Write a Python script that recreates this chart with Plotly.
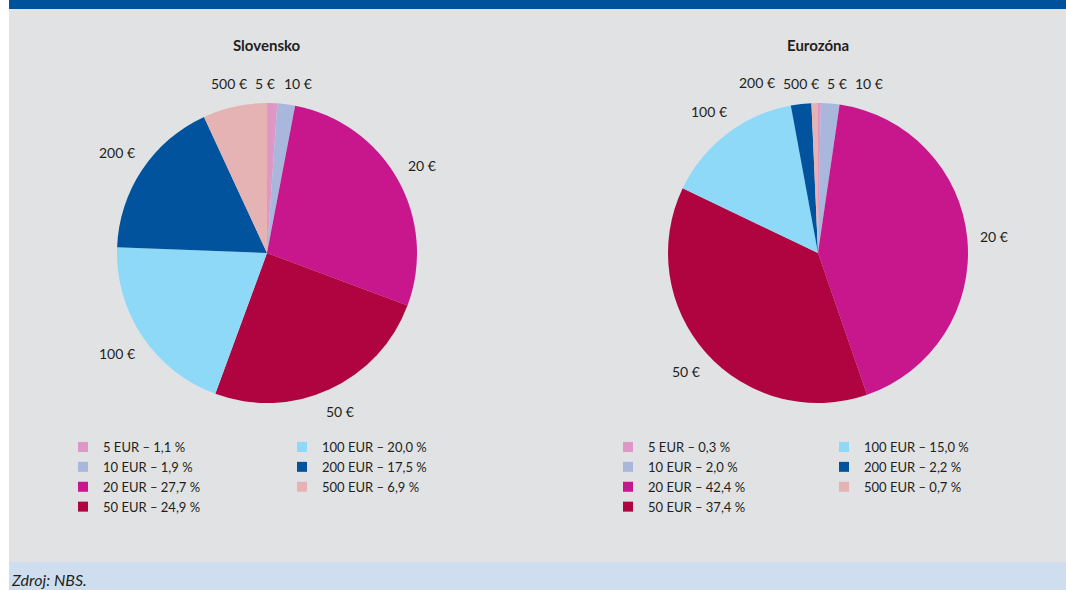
import math
import plotly.graph_objects as go

# ---------------- data ----------------
denominations = ["5", "10", "20", "50", "100", "200", "500"]
slice_labels = ["5 €", "10 €", "20 €", "50 €", "100 €", "200 €", "500 €"]
sk_values = [1.1, 1.9, 27.7, 24.9, 20.0, 17.5, 6.9]
ez_values = [0.3, 2.0, 42.4, 37.4, 15.0, 2.2, 0.7]
chart_titles = ["Slovensko", "Eurozóna"]
source_text = "Zdroj: NBS."

colors = ["#df97c5", "#a9b7dc", "#c8168d", "#b00441", "#8ed8f8", "#00539c", "#e5b3b3"]

# ---------------- layout constants (pixels) ----------------
W, H = 1066, 590
FONT = "Lato"
TXT = "#231f20"
R = 150
CENTERS = [(267, 253), (818, 253)]
LEGEND_X = [(63, 282), (608, 824)]
LEGEND_TOP = 432


def px(x):
    return x / W


def py(y):
    return 1 - y / H


def legend_text(d, v):
    return f"{d} EUR – {v:.1f} %".replace(".", ",")


def label_positions(values, texts, cx, cy, r, gap=11, fs=14, pad=7):
    """Place slice labels outside the pie at each slice's mid-angle,
    then push overlapping neighbours apart."""
    total = sum(values)
    cum = 0.0
    boxes = []
    for v, t in zip(values, texts):
        ang = (cum + v / 2) / total * 2 * math.pi
        cum += v
        s, c = math.sin(ang), math.cos(ang)
        w = 0.52 * fs * len(t)
        h = fs * 1.2
        d = r + gap + abs(s) * w / 2 + abs(c) * h / 2
        boxes.append({"x": cx + d * s, "y": cy - d * c, "w": w, "h": h, "a": ang, "t": t, "v": v})
    n = len(boxes)
    for _ in range(300):
        moved = False
        for i in range(n):
            a, b = boxes[i], boxes[(i + 1) % n]
            ox = (a["w"] + b["w"]) / 2 + pad - abs(b["x"] - a["x"])
            oy = (a["h"] + b["h"]) / 2 - abs(b["y"] - a["y"])
            if ox > 0.01 and oy > 0.01:
                moved = True
                tx, ty = math.cos(b["a"]), math.sin(b["a"])
                if abs(tx) >= abs(ty):
                    sgn = 1 if tx > 0 else -1
                    b["x"] += sgn * ox / 2
                    a["x"] -= sgn * ox / 2
                else:
                    sgn = 1 if ty > 0 else -1
                    b["y"] += sgn * oy / 2
                    a["y"] -= sgn * oy / 2
        if not moved:
            break
    return boxes


fig = go.Figure()
annotations = []
legends = {}

for k, (vals, title) in enumerate(zip([sk_values, ez_values], chart_titles)):
    cx, cy = CENTERS[k]
    fig.add_trace(go.Pie(
        values=vals,
        labels=[legend_text(d, v) for d, v in zip(denominations, vals)],
        marker=dict(colors=colors, line=dict(width=0)),
        sort=False,
        direction="clockwise",
        rotation=0,
        textinfo="none",
        hoverinfo="label",
        showlegend=False,
        domain=dict(x=[px(cx - R), px(cx + R)], y=[py(cy + R), py(cy - R)]),
    ))
    # outside slice labels derived from the values
    for b in label_positions(vals, slice_labels, cx, cy, R):
        annotations.append(dict(
            x=px(b["x"]), y=py(b["y"]), xref="paper", yref="paper",
            text=b["t"], showarrow=False, xanchor="center", yanchor="middle",
            font=dict(family=FONT, size=14, color=TXT),
        ))
    # chart title
    annotations.append(dict(
        x=px(cx), y=py(45), xref="paper", yref="paper",
        text=f"<b>{title}</b>", showarrow=False, xanchor="center", yanchor="middle",
        font=dict(family=FONT, size=15, color=TXT),
    ))
    # legends: two columns
    cols = [range(0, 4), range(4, 7)]
    for j, idxs in enumerate(cols):
        lname = "legend" if (k == 0 and j == 0) else f"legend{k * 2 + j + 1}"
        for i in idxs:
            fig.add_trace(go.Scatter(
                x=[None], y=[None], mode="markers",
                marker=dict(symbol="square", size=10, color=colors[i]),
                name=legend_text(denominations[i], vals[i]),
                legend=lname, showlegend=True, hoverinfo="skip",
            ))
        legends[lname] = dict(
            x=px(LEGEND_X[k][j]), y=py(LEGEND_TOP), xanchor="left", yanchor="top",
            orientation="v", bgcolor="rgba(0,0,0,0)", borderwidth=0,
            font=dict(family=FONT, size=13, color=TXT),
            itemclick=False, itemdoubleclick=False,
        )

annotations.append(dict(
    x=px(9), y=py(579), xref="paper", yref="paper",
    text=source_text, showarrow=False, xanchor="left", yanchor="middle",
    font=dict(family=FONT, size=16, color=TXT, style="italic"),
))

shapes = [
    dict(type="rect", xref="paper", yref="paper", x0=px(9), x1=1, y0=py(9), y1=1,
         fillcolor="#00519c", line=dict(width=0), layer="below"),
    dict(type="rect", xref="paper", yref="paper", x0=px(9), x1=1, y0=py(562), y1=py(9),
         fillcolor="#e1e2e4", line=dict(width=0), layer="below"),
    dict(type="rect", xref="paper", yref="paper", x0=px(9), x1=1, y0=0, y1=py(562),
         fillcolor="#cfdeee", line=dict(width=0), layer="below"),
]

fig.update_layout(
    width=W, height=H,
    margin=dict(l=0, r=0, t=0, b=0),
    paper_bgcolor="white",
    plot_bgcolor="rgba(0,0,0,0)",
    xaxis=dict(visible=False, fixedrange=True),
    yaxis=dict(visible=False, fixedrange=True),
    annotations=annotations,
    shapes=shapes,
    font=dict(family=FONT, color=TXT),
    **legends,
)

fig.write_html(
    "out.html",
    config=dict(displayModeBar=False),
    post_script="document.body.style.margin='0';document.body.style.overflow='hidden';",
)
